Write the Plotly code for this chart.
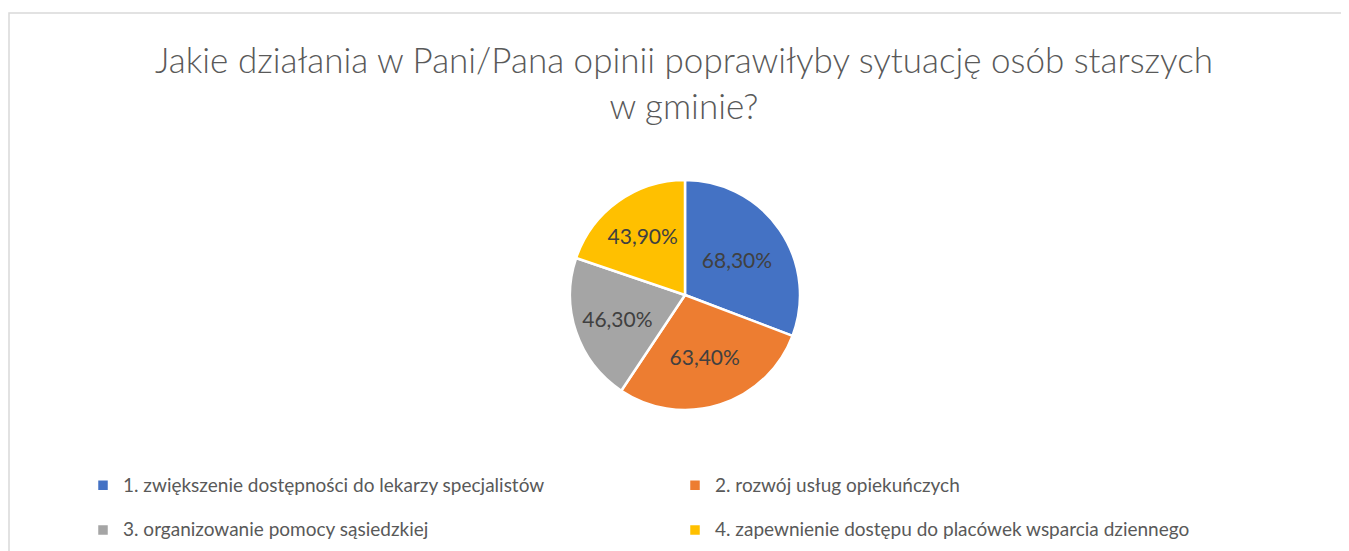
import plotly.graph_objects as go

# page body has an 8px margin, so the figure is drawn 8px right/down
OFF = 8
W, H = 1349 - OFF, 551 - OFF

categories = [
    "1. zwiększenie dostępności do lekarzy specjalistów",
    "2. rozwój usług opiekuńczych",
    "3. organizowanie pomocy sąsiedzkiej",
    "4. zapewnienie dostępu do placówek wsparcia dziennego",
]
values = [68.3, 63.4, 46.3, 43.9]
value_labels = ["68,30%", "63,40%", "46,30%", "43,90%"]
colors = ["#4472C4", "#ED7D31", "#A5A5A5", "#FFC000"]
title_text = "Jakie działania w Pani/Pana opinii poprawiłyby sytuację osób starszych<br>w gminie?"

FONT = "Lato"

def px_x(x):
    return (x - OFF) / W

def px_y(y):
    return 1 - (y - OFF) / H

legend_labels = [
    f"<span style='font-size:19px;baseline-shift:6px'>{c}</span>" for c in categories
]

fig = go.Figure(
    go.Pie(
        labels=legend_labels,
        values=values,
        text=value_labels,
        textinfo="text",
        textposition="inside",
        insidetextorientation="horizontal",
        sort=False,
        direction="clockwise",
        rotation=0,
        marker=dict(colors=colors, line=dict(color="white", width=2.5)),
        textfont=dict(family=FONT, size=21, color="#404040"),
        domain=dict(x=[px_x(570), px_x(800)], y=[px_y(410), px_y(180)]),
        hoverinfo="text",
    )
)

fig.update_layout(
    width=W,
    height=H,
    margin=dict(l=0, r=0, t=0, b=0, autoexpand=False),
    paper_bgcolor="white",
    plot_bgcolor="white",
    font=dict(family=FONT, color="#595959"),
    title=dict(
        text=title_text,
        x=px_x(684),
        xanchor="center",
        y=px_y(73),
        yanchor="top",
        yref="paper",
        font=dict(family=FONT, size=35, color="#595959", weight=300),
    ),
    legend=dict(
        orientation="h",
        x=px_x(83),
        xanchor="left",
        y=px_y(458),
        yanchor="top",
        entrywidth=547,
        entrywidthmode="pixels",
        font=dict(family=FONT, size=32, color="#595959"),
        bgcolor="rgba(0,0,0,0)",
    ),
    shapes=[
        dict(
            type="rect",
            xref="paper",
            yref="paper",
            x0=px_x(9),
            x1=px_x(1365),
            y0=px_y(570),
            y1=px_y(13),
            line=dict(color="#D9D9D9", width=1.5),
            fillcolor="rgba(0,0,0,0)",
            layer="below",
        )
    ],
)

fig.write_html("out.html")
